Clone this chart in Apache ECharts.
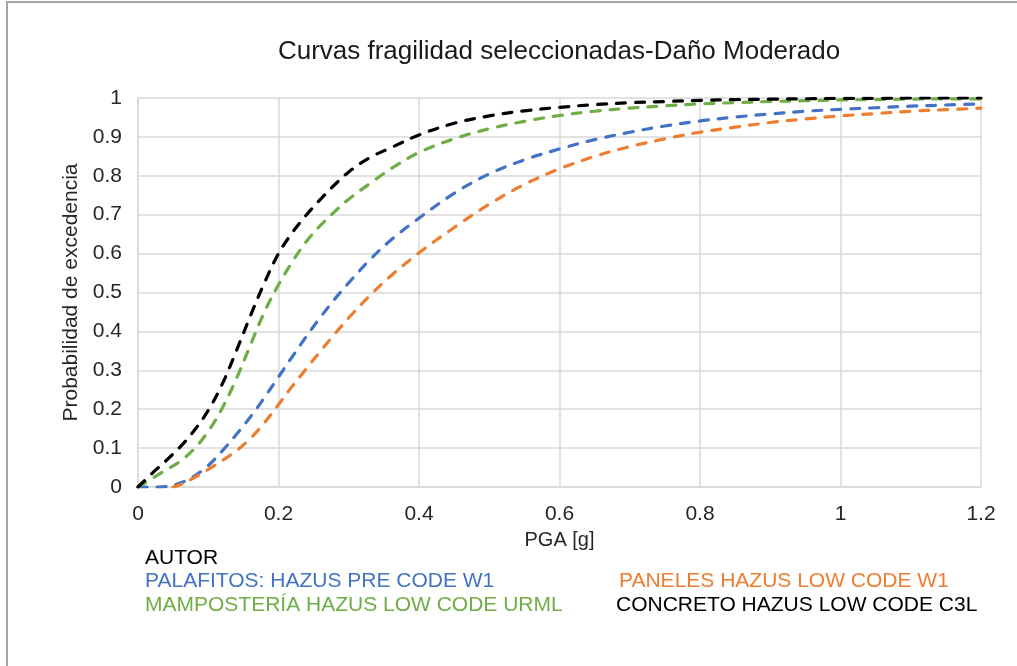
<!DOCTYPE html>
<html>
<head>
<meta charset="utf-8">
<script src="https://cdn.jsdelivr.net/npm/echarts@6/dist/echarts.min.js"></script>
<style>
html,body{margin:0;padding:0;background:#fff;}
#chart{width:1017px;height:666px;}
</style>
</head>
<body>
<div id="chart"></div>
<script>
// ---- data ----
var chartTitle = 'Curvas fragilidad seleccionadas-Daño Moderado';
var xAxisTitle = 'PGA [g]';
var yAxisTitle = 'Probabilidad de excedencia';
var xTickLabels = ['0', '0.2', '0.4', '0.6', '0.8', '1', '1.2'];
var yTickLabels = ['0', '0.1', '0.2', '0.3', '0.4', '0.5', '0.6', '0.7', '0.8', '0.9', '1'];
var seriesNames = ['AUTOR', 'PALAFITOS: HAZUS PRE CODE W1', 'PANELES HAZUS LOW CODE W1',
                   'MAMPOSTERÍA HAZUS LOW CODE URML', 'CONCRETO HAZUS LOW CODE C3L'];

var pga = [0, 0.02, 0.04, 0.06, 0.08, 0.1, 0.12, 0.14, 0.16, 0.18, 0.2, 0.22, 0.24, 0.26, 0.28, 0.3,
           0.33, 0.36, 0.4, 0.45, 0.5, 0.55, 0.6, 0.65, 0.7, 0.75, 0.8, 0.85, 0.9, 0.95, 1.0, 1.05, 1.1, 1.15, 1.2];
var pgaPaneles = [0.05, 0.06, 0.08, 0.1, 0.12, 0.14, 0.16, 0.18, 0.2, 0.22, 0.24, 0.26, 0.28, 0.3,
           0.33, 0.36, 0.4, 0.45, 0.5, 0.55, 0.6, 0.65, 0.7, 0.75, 0.8, 0.85, 0.9, 0.95, 1.0, 1.05, 1.1, 1.15, 1.2];

var autor = [];
var palafitos = [0, 0, 0.001, 0.01, 0.028, 0.055, 0.093, 0.135, 0.18, 0.23, 0.283, 0.336, 0.388, 0.437, 0.483, 0.525,
                 0.584, 0.635, 0.691, 0.755, 0.805, 0.841, 0.869, 0.893, 0.912, 0.928, 0.941, 0.951, 0.959, 0.966, 0.971, 0.975, 0.979, 0.982, 0.985];
var paneles = [0, 0.006, 0.024, 0.045, 0.068, 0.093, 0.125, 0.165, 0.212, 0.26, 0.305, 0.35, 0.393, 0.435,
               0.492, 0.543, 0.602, 0.667, 0.727, 0.778, 0.818, 0.85, 0.875, 0.895, 0.912, 0.925, 0.937, 0.946, 0.954, 0.96, 0.966, 0.97, 0.974];
var mamposteria = [0, 0.022, 0.044, 0.066, 0.098, 0.143, 0.203, 0.278, 0.365, 0.45, 0.52, 0.58, 0.632, 0.673, 0.708, 0.74,
                   0.78, 0.818, 0.86, 0.895, 0.921, 0.94, 0.955, 0.966, 0.974, 0.98, 0.985, 0.988, 0.991, 0.993, 0.995, 0.996, 0.997, 0.998, 0.998];
var concreto = [0, 0.035, 0.068, 0.103, 0.145, 0.197, 0.265, 0.35, 0.44, 0.525, 0.6, 0.655, 0.7, 0.74, 0.777, 0.81,
                0.847, 0.872, 0.905, 0.935, 0.954, 0.967, 0.976, 0.983, 0.988, 0.991, 0.994, 0.996, 0.997, 0.998, 0.999, 0.999, 1.0, 1.0, 1.0];

var colors = ['#000000', '#4472C4', '#ED7D31', '#70AD47', '#000000'];

// ---- build ----
function pairs(xs, ys) { return ys.map(function (y, i) { return [xs[i], y]; }); }
var FONT = '"Liberation Sans", Arial, sans-serif';

function lineSeries(idx, data) {
  return {
    name: seriesNames[idx], type: 'line', data: data,
    showSymbol: false, symbol: 'none', smooth: 0.35,
    color: colors[idx],
    lineStyle: { color: colors[idx], width: 3.2, type: [9, 10], cap: 'round', join: 'round' },
    emphasis: { disabled: true }, z: 2 + idx
  };
}

function legendAt(idx, left, top) {
  return {
    show: true, left: left, top: top, padding: 0,
    itemWidth: 0, itemHeight: 0, itemGap: 0, icon: 'rect',
    selectedMode: false,
    data: [{ name: seriesNames[idx], textStyle: { color: colors[idx] } }],
    textStyle: { fontFamily: FONT, fontSize: 21, lineHeight: 22, color: colors[idx], padding: 0 }
  };
}

var chart = echarts.init(document.getElementById('chart'), null, { renderer: 'canvas' });
chart.setOption({
  animation: false,
  backgroundColor: '#ffffff',
  title: {
    text: chartTitle, left: 559, top: 39, textAlign: 'center', padding: 0,
    textStyle: { fontFamily: FONT, fontSize: 26, fontWeight: 'normal', color: '#1a1a1a', lineHeight: 26 }
  },
  graphic: [{
    type: 'rect', silent: true, z: -1,
    shape: { x: 7, y: 2, width: 1200, height: 900 },
    style: { fill: 'none', stroke: '#a6a6a6', lineWidth: 2 }
  }],
  legend: [
    legendAt(0, 140, 547),
    legendAt(1, 140, 570),
    legendAt(2, 614, 570),
    legendAt(3, 140, 594),
    legendAt(4, 611, 594)
  ],
  grid: { left: 138, right: 36, top: 98, bottom: 179, containLabel: false },
  xAxis: {
    type: 'value', min: 0, max: 1.2, interval: 0.2,
    name: xAxisTitle, nameLocation: 'middle', nameGap: 40,
    nameTextStyle: { fontFamily: FONT, fontSize: 20, color: '#262626', lineHeight: 22 },
    axisLine: { show: true, lineStyle: { color: '#d9d9d9', width: 1.5 } },
    axisTick: { show: false },
    splitLine: { show: true, lineStyle: { color: '#d9d9d9', width: 1.5 } },
    axisLabel: {
      margin: 16, fontFamily: FONT, fontSize: 21, color: '#262626', lineHeight: 22,
      formatter: function (v) { return xTickLabels[Math.round(v / 0.2)]; }
    }
  },
  yAxis: {
    type: 'value', min: 0, max: 1, interval: 0.1,
    name: yAxisTitle, nameLocation: 'middle', nameGap: 55, nameRotate: 90,
    nameTextStyle: { fontFamily: FONT, fontSize: 21, color: '#262626', lineHeight: 22 },
    axisLine: { show: true, lineStyle: { color: '#d9d9d9', width: 1.5 } },
    axisTick: { show: false },
    splitLine: { show: true, lineStyle: { color: '#d9d9d9', width: 1.5 } },
    axisLabel: {
      margin: 16, fontFamily: FONT, fontSize: 21, color: '#262626',
      formatter: function (v) { return yTickLabels[Math.round(v * 10)]; }
    }
  },
  series: [
    lineSeries(0, autor),
    lineSeries(1, pairs(pga, palafitos)),
    lineSeries(2, pairs(pgaPaneles, paneles)),
    lineSeries(3, pairs(pga, mamposteria)),
    lineSeries(4, pairs(pga, concreto))
  ]
});
</script>
</body>
</html>
